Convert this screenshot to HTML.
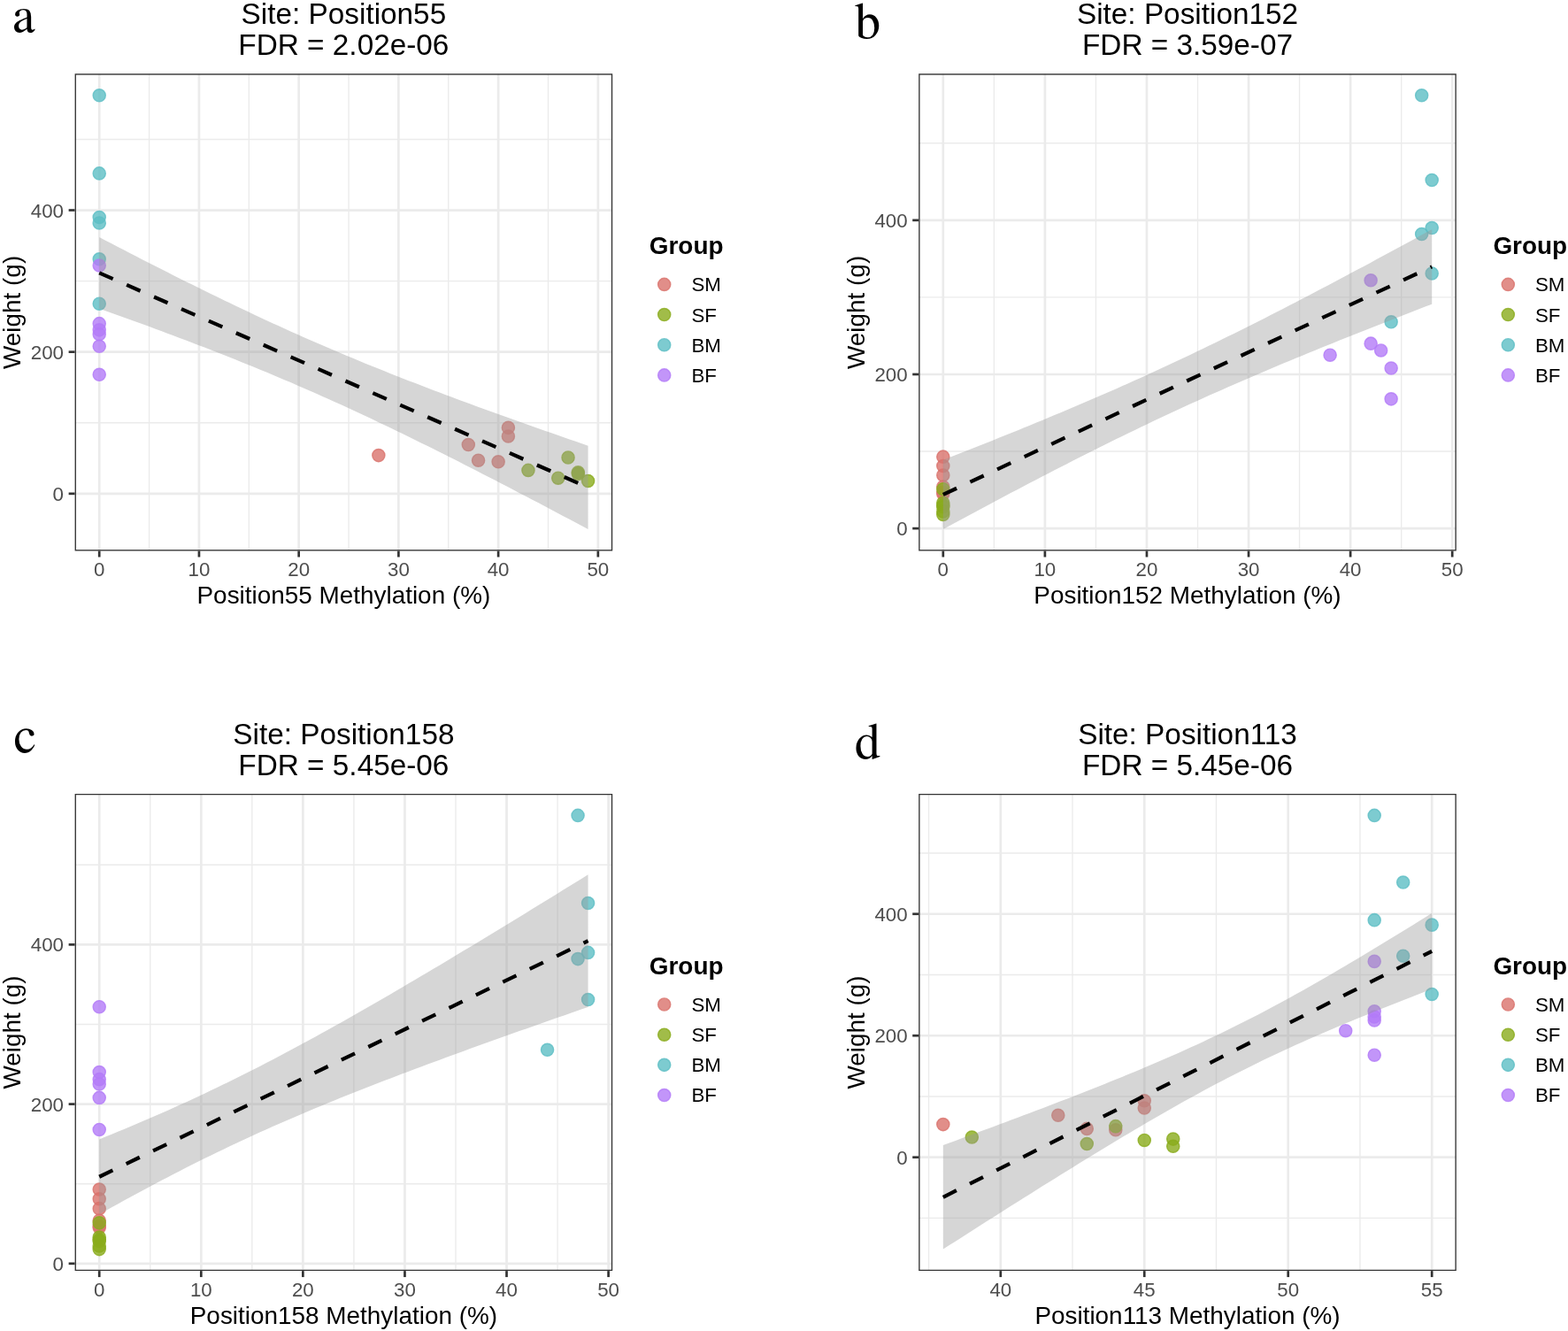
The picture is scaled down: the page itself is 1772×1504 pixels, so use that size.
<!DOCTYPE html><html><head><meta charset="utf-8"><title>Weight vs methylation</title><style>html,body{margin:0;padding:0;background:#fff}svg{display:block}</style></head><body>
<svg width="1772" height="1504" viewBox="0 0 1772 1504" font-family="'Liberation Sans', Arial, sans-serif">
<rect width="1772" height="1504" fill="#fff"/>
<defs><clipPath id="clipa"><rect x="84.6" y="83.3" width="607.6" height="539.2"/></clipPath></defs>
<g clip-path="url(#clipa)">
<line x1="168.58" y1="83.3" x2="168.58" y2="622.5" stroke="#ebebeb" stroke-width="1.35"/>
<line x1="281.31" y1="83.3" x2="281.31" y2="622.5" stroke="#ebebeb" stroke-width="1.35"/>
<line x1="394.04" y1="83.3" x2="394.04" y2="622.5" stroke="#ebebeb" stroke-width="1.35"/>
<line x1="506.76" y1="83.3" x2="506.76" y2="622.5" stroke="#ebebeb" stroke-width="1.35"/>
<line x1="619.49" y1="83.3" x2="619.49" y2="622.5" stroke="#ebebeb" stroke-width="1.35"/>
<line x1="84.6" y1="477.76" x2="692.2" y2="477.76" stroke="#ebebeb" stroke-width="1.35"/>
<line x1="84.6" y1="317.61" x2="692.2" y2="317.61" stroke="#ebebeb" stroke-width="1.35"/>
<line x1="84.6" y1="157.46" x2="692.2" y2="157.46" stroke="#ebebeb" stroke-width="1.35"/>
<line x1="112.22" y1="83.3" x2="112.22" y2="622.5" stroke="#ebebeb" stroke-width="2.7"/>
<line x1="224.95" y1="83.3" x2="224.95" y2="622.5" stroke="#ebebeb" stroke-width="2.7"/>
<line x1="337.67" y1="83.3" x2="337.67" y2="622.5" stroke="#ebebeb" stroke-width="2.7"/>
<line x1="450.4" y1="83.3" x2="450.4" y2="622.5" stroke="#ebebeb" stroke-width="2.7"/>
<line x1="563.13" y1="83.3" x2="563.13" y2="622.5" stroke="#ebebeb" stroke-width="2.7"/>
<line x1="675.85" y1="83.3" x2="675.85" y2="622.5" stroke="#ebebeb" stroke-width="2.7"/>
<line x1="84.6" y1="557.83" x2="692.2" y2="557.83" stroke="#ebebeb" stroke-width="2.7"/>
<line x1="84.6" y1="397.68" x2="692.2" y2="397.68" stroke="#ebebeb" stroke-width="2.7"/>
<line x1="84.6" y1="237.53" x2="692.2" y2="237.53" stroke="#ebebeb" stroke-width="2.7"/>
<circle cx="574.4" cy="483.36" r="7.085" fill="#d9726b" fill-opacity="0.8" stroke="#d9726b" stroke-opacity="0.8" stroke-width="1.41"/>
<circle cx="574.4" cy="492.97" r="7.085" fill="#d9726b" fill-opacity="0.8" stroke="#d9726b" stroke-opacity="0.8" stroke-width="1.41"/>
<circle cx="529.31" cy="502.58" r="7.085" fill="#d9726b" fill-opacity="0.8" stroke="#d9726b" stroke-opacity="0.8" stroke-width="1.41"/>
<circle cx="427.85" cy="514.59" r="7.085" fill="#d9726b" fill-opacity="0.8" stroke="#d9726b" stroke-opacity="0.8" stroke-width="1.41"/>
<circle cx="540.58" cy="520.2" r="7.085" fill="#d9726b" fill-opacity="0.8" stroke="#d9726b" stroke-opacity="0.8" stroke-width="1.41"/>
<circle cx="563.13" cy="521.8" r="7.085" fill="#d9726b" fill-opacity="0.8" stroke="#d9726b" stroke-opacity="0.8" stroke-width="1.41"/>
<circle cx="642.04" cy="517" r="7.085" fill="#8aab1c" fill-opacity="0.8" stroke="#8aab1c" stroke-opacity="0.8" stroke-width="1.41"/>
<circle cx="596.95" cy="531.41" r="7.085" fill="#8aab1c" fill-opacity="0.8" stroke="#8aab1c" stroke-opacity="0.8" stroke-width="1.41"/>
<circle cx="653.31" cy="533.81" r="7.085" fill="#8aab1c" fill-opacity="0.8" stroke="#8aab1c" stroke-opacity="0.8" stroke-width="1.41"/>
<circle cx="653.31" cy="535.41" r="7.085" fill="#8aab1c" fill-opacity="0.8" stroke="#8aab1c" stroke-opacity="0.8" stroke-width="1.41"/>
<circle cx="630.76" cy="540.22" r="7.085" fill="#8aab1c" fill-opacity="0.8" stroke="#8aab1c" stroke-opacity="0.8" stroke-width="1.41"/>
<circle cx="664.58" cy="543.42" r="7.085" fill="#8aab1c" fill-opacity="0.8" stroke="#8aab1c" stroke-opacity="0.8" stroke-width="1.41"/>
<circle cx="112.22" cy="107.81" r="7.085" fill="#5cbec4" fill-opacity="0.8" stroke="#5cbec4" stroke-opacity="0.8" stroke-width="1.41"/>
<circle cx="112.22" cy="195.89" r="7.085" fill="#5cbec4" fill-opacity="0.8" stroke="#5cbec4" stroke-opacity="0.8" stroke-width="1.41"/>
<circle cx="112.22" cy="245.54" r="7.085" fill="#5cbec4" fill-opacity="0.8" stroke="#5cbec4" stroke-opacity="0.8" stroke-width="1.41"/>
<circle cx="112.22" cy="251.95" r="7.085" fill="#5cbec4" fill-opacity="0.8" stroke="#5cbec4" stroke-opacity="0.8" stroke-width="1.41"/>
<circle cx="112.22" cy="292.78" r="7.085" fill="#5cbec4" fill-opacity="0.8" stroke="#5cbec4" stroke-opacity="0.8" stroke-width="1.41"/>
<circle cx="112.22" cy="343.23" r="7.085" fill="#5cbec4" fill-opacity="0.8" stroke="#5cbec4" stroke-opacity="0.8" stroke-width="1.41"/>
<circle cx="112.22" cy="299.99" r="7.085" fill="#b37bf8" fill-opacity="0.8" stroke="#b37bf8" stroke-opacity="0.8" stroke-width="1.41"/>
<circle cx="112.22" cy="365.65" r="7.085" fill="#b37bf8" fill-opacity="0.8" stroke="#b37bf8" stroke-opacity="0.8" stroke-width="1.41"/>
<circle cx="112.22" cy="372.86" r="7.085" fill="#b37bf8" fill-opacity="0.8" stroke="#b37bf8" stroke-opacity="0.8" stroke-width="1.41"/>
<circle cx="112.22" cy="377.66" r="7.085" fill="#b37bf8" fill-opacity="0.8" stroke="#b37bf8" stroke-opacity="0.8" stroke-width="1.41"/>
<circle cx="112.22" cy="391.28" r="7.085" fill="#b37bf8" fill-opacity="0.8" stroke="#b37bf8" stroke-opacity="0.8" stroke-width="1.41"/>
<circle cx="112.22" cy="423.31" r="7.085" fill="#b37bf8" fill-opacity="0.8" stroke="#b37bf8" stroke-opacity="0.8" stroke-width="1.41"/>
<polygon points="112.22,268.08 119.21,271.72 126.2,275.36 133.19,278.99 140.19,282.61 147.18,286.22 154.17,289.81 161.16,293.4 168.15,296.97 175.15,300.53 182.14,304.08 189.13,307.62 196.12,311.14 203.11,314.65 210.11,318.14 217.1,321.61 224.09,325.07 231.08,328.52 238.07,331.94 245.07,335.35 252.06,338.74 259.05,342.11 266.04,345.46 273.03,348.79 280.02,352.1 287.02,355.39 294.01,358.66 301,361.91 307.99,365.13 314.98,368.33 321.98,371.5 328.97,374.66 335.96,377.78 342.95,380.89 349.94,383.97 356.94,387.03 363.93,390.06 370.92,393.07 377.91,396.06 384.9,399.02 391.9,401.96 398.89,404.87 405.88,407.77 412.87,410.64 419.86,413.49 426.86,416.32 433.85,419.12 440.84,421.91 447.83,424.68 454.82,427.43 461.82,430.16 468.81,432.87 475.8,435.56 482.79,438.24 489.78,440.9 496.78,443.55 503.77,446.18 510.76,448.8 517.75,451.4 524.74,453.99 531.73,456.57 538.73,459.13 545.72,461.68 552.71,464.23 559.7,466.76 566.69,469.28 573.69,471.79 580.68,474.29 587.67,476.78 594.66,479.26 601.65,481.74 608.65,484.21 615.64,486.67 622.63,489.12 629.62,491.56 636.61,494 643.61,496.43 650.6,498.86 657.59,501.28 664.58,503.69 664.58,597.99 657.59,594.27 650.6,590.55 643.61,586.83 636.61,583.13 629.62,579.43 622.63,575.73 615.64,572.05 608.65,568.37 601.65,564.7 594.66,561.03 587.67,557.38 580.68,553.73 573.69,550.09 566.69,546.47 559.7,542.85 552.71,539.24 545.72,535.64 538.73,532.06 531.73,528.48 524.74,524.92 517.75,521.37 510.76,517.84 503.77,514.31 496.78,510.81 489.78,507.32 482.79,503.84 475.8,500.38 468.81,496.93 461.82,493.51 454.82,490.1 447.83,486.71 440.84,483.34 433.85,479.99 426.86,476.66 419.86,473.35 412.87,470.06 405.88,466.79 398.89,463.54 391.9,460.32 384.9,457.12 377.91,453.94 370.92,450.79 363.93,447.66 356.94,444.56 349.94,441.48 342.95,438.42 335.96,435.38 328.97,432.37 321.98,429.39 314.98,426.43 307.99,423.49 301,420.57 294.01,417.68 287.02,414.81 280.02,411.96 273.03,409.13 266.04,406.32 259.05,403.53 252.06,400.76 245.07,398.01 238.07,395.28 231.08,392.57 224.09,389.88 217.1,387.2 210.11,384.54 203.11,381.89 196.12,379.26 189.13,376.64 182.14,374.04 175.15,371.45 168.15,368.87 161.16,366.31 154.17,363.75 147.18,361.21 140.19,358.68 133.19,356.16 126.2,353.65 119.21,351.15 112.22,348.65" fill="#999999" fill-opacity="0.4"/>
<line x1="112.22" y1="308.37" x2="664.58" y2="550.84" stroke="#000" stroke-width="4.22" stroke-dasharray="16.88 16.88" stroke-linecap="butt"/>
<rect x="84.6" y="83.3" width="607.6" height="539.2" fill="none" stroke="#333333" stroke-width="2.7"/>
</g>
<line x1="77.62" y1="557.83" x2="84.6" y2="557.83" stroke="#333333" stroke-width="2.7"/>
<text x="72.02" y="565.82" font-size="22.3" fill="#4d4d4d" text-anchor="end">0</text>
<line x1="77.62" y1="397.68" x2="84.6" y2="397.68" stroke="#333333" stroke-width="2.7"/>
<text x="72.02" y="405.67" font-size="22.3" fill="#4d4d4d" text-anchor="end">200</text>
<line x1="77.62" y1="237.53" x2="84.6" y2="237.53" stroke="#333333" stroke-width="2.7"/>
<text x="72.02" y="245.51" font-size="22.3" fill="#4d4d4d" text-anchor="end">400</text>
<line x1="112.22" y1="622.5" x2="112.22" y2="629.48" stroke="#333333" stroke-width="2.7"/>
<text x="112.22" y="651.35" font-size="22.3" fill="#4d4d4d" text-anchor="middle">0</text>
<line x1="224.95" y1="622.5" x2="224.95" y2="629.48" stroke="#333333" stroke-width="2.7"/>
<text x="224.95" y="651.35" font-size="22.3" fill="#4d4d4d" text-anchor="middle">10</text>
<line x1="337.67" y1="622.5" x2="337.67" y2="629.48" stroke="#333333" stroke-width="2.7"/>
<text x="337.67" y="651.35" font-size="22.3" fill="#4d4d4d" text-anchor="middle">20</text>
<line x1="450.4" y1="622.5" x2="450.4" y2="629.48" stroke="#333333" stroke-width="2.7"/>
<text x="450.4" y="651.35" font-size="22.3" fill="#4d4d4d" text-anchor="middle">30</text>
<line x1="563.13" y1="622.5" x2="563.13" y2="629.48" stroke="#333333" stroke-width="2.7"/>
<text x="563.13" y="651.35" font-size="22.3" fill="#4d4d4d" text-anchor="middle">40</text>
<line x1="675.85" y1="622.5" x2="675.85" y2="629.48" stroke="#333333" stroke-width="2.7"/>
<text x="675.85" y="651.35" font-size="22.3" fill="#4d4d4d" text-anchor="middle">50</text>
<text x="388.4" y="682.3" font-size="27.9" fill="#000" text-anchor="middle">Position55 Methylation (%)</text>
<text transform="translate(22.9,352.9) rotate(-90)" x="0" y="0" font-size="27.9" fill="#000" text-anchor="middle">Weight (g)</text>
<text x="388.4" y="26.9" font-size="33.35" fill="#000" text-anchor="middle">Site: Position55</text>
<text x="388.4" y="62.4" font-size="33.35" fill="#000" text-anchor="middle">FDR = 2.02e-06</text>
<text x="733.8" y="287.4" font-size="27.9" font-weight="bold" fill="#000">Group</text>
<circle cx="750.7" cy="321.4" r="7.085" fill="#d9726b" fill-opacity="0.8" stroke="#d9726b" stroke-opacity="0.8" stroke-width="1.41"/>
<text x="781.4" y="329.38" font-size="22.3" fill="#000">SM</text>
<circle cx="750.7" cy="355.57" r="7.085" fill="#8aab1c" fill-opacity="0.8" stroke="#8aab1c" stroke-opacity="0.8" stroke-width="1.41"/>
<text x="781.4" y="363.55" font-size="22.3" fill="#000">SF</text>
<circle cx="750.7" cy="389.74" r="7.085" fill="#5cbec4" fill-opacity="0.8" stroke="#5cbec4" stroke-opacity="0.8" stroke-width="1.41"/>
<text x="781.4" y="397.72" font-size="22.3" fill="#000">BM</text>
<circle cx="750.7" cy="423.91" r="7.085" fill="#b37bf8" fill-opacity="0.8" stroke="#b37bf8" stroke-opacity="0.8" stroke-width="1.41"/>
<text x="781.4" y="431.89" font-size="22.3" fill="#000">BF</text>
<text x="14.6" y="36.3" font-family="FreeSerif, 'Liberation Serif', 'Times New Roman', serif" font-size="58" fill="#000">a</text>
<defs><clipPath id="clipb"><rect x="1038.2" y="83.3" width="607.6" height="539.2"/></clipPath></defs>
<g clip-path="url(#clipb)">
<line x1="1123.36" y1="83.3" x2="1123.36" y2="622.5" stroke="#ebebeb" stroke-width="1.35"/>
<line x1="1238.43" y1="83.3" x2="1238.43" y2="622.5" stroke="#ebebeb" stroke-width="1.35"/>
<line x1="1353.51" y1="83.3" x2="1353.51" y2="622.5" stroke="#ebebeb" stroke-width="1.35"/>
<line x1="1468.58" y1="83.3" x2="1468.58" y2="622.5" stroke="#ebebeb" stroke-width="1.35"/>
<line x1="1583.66" y1="83.3" x2="1583.66" y2="622.5" stroke="#ebebeb" stroke-width="1.35"/>
<line x1="1038.2" y1="510.04" x2="1645.8" y2="510.04" stroke="#ebebeb" stroke-width="1.35"/>
<line x1="1038.2" y1="335.92" x2="1645.8" y2="335.92" stroke="#ebebeb" stroke-width="1.35"/>
<line x1="1038.2" y1="161.79" x2="1645.8" y2="161.79" stroke="#ebebeb" stroke-width="1.35"/>
<line x1="1065.82" y1="83.3" x2="1065.82" y2="622.5" stroke="#ebebeb" stroke-width="2.7"/>
<line x1="1180.89" y1="83.3" x2="1180.89" y2="622.5" stroke="#ebebeb" stroke-width="2.7"/>
<line x1="1295.97" y1="83.3" x2="1295.97" y2="622.5" stroke="#ebebeb" stroke-width="2.7"/>
<line x1="1411.05" y1="83.3" x2="1411.05" y2="622.5" stroke="#ebebeb" stroke-width="2.7"/>
<line x1="1526.12" y1="83.3" x2="1526.12" y2="622.5" stroke="#ebebeb" stroke-width="2.7"/>
<line x1="1641.2" y1="83.3" x2="1641.2" y2="622.5" stroke="#ebebeb" stroke-width="2.7"/>
<line x1="1038.2" y1="597.11" x2="1645.8" y2="597.11" stroke="#ebebeb" stroke-width="2.7"/>
<line x1="1038.2" y1="422.98" x2="1645.8" y2="422.98" stroke="#ebebeb" stroke-width="2.7"/>
<line x1="1038.2" y1="248.85" x2="1645.8" y2="248.85" stroke="#ebebeb" stroke-width="2.7"/>
<circle cx="1065.82" cy="516.14" r="7.085" fill="#d9726b" fill-opacity="0.8" stroke="#d9726b" stroke-opacity="0.8" stroke-width="1.41"/>
<circle cx="1065.82" cy="526.58" r="7.085" fill="#d9726b" fill-opacity="0.8" stroke="#d9726b" stroke-opacity="0.8" stroke-width="1.41"/>
<circle cx="1065.82" cy="537.03" r="7.085" fill="#d9726b" fill-opacity="0.8" stroke="#d9726b" stroke-opacity="0.8" stroke-width="1.41"/>
<circle cx="1065.82" cy="550.09" r="7.085" fill="#d9726b" fill-opacity="0.8" stroke="#d9726b" stroke-opacity="0.8" stroke-width="1.41"/>
<circle cx="1065.82" cy="556.19" r="7.085" fill="#d9726b" fill-opacity="0.8" stroke="#d9726b" stroke-opacity="0.8" stroke-width="1.41"/>
<circle cx="1065.82" cy="557.93" r="7.085" fill="#d9726b" fill-opacity="0.8" stroke="#d9726b" stroke-opacity="0.8" stroke-width="1.41"/>
<circle cx="1065.82" cy="552.7" r="7.085" fill="#8aab1c" fill-opacity="0.8" stroke="#8aab1c" stroke-opacity="0.8" stroke-width="1.41"/>
<circle cx="1065.82" cy="568.37" r="7.085" fill="#8aab1c" fill-opacity="0.8" stroke="#8aab1c" stroke-opacity="0.8" stroke-width="1.41"/>
<circle cx="1065.82" cy="570.99" r="7.085" fill="#8aab1c" fill-opacity="0.8" stroke="#8aab1c" stroke-opacity="0.8" stroke-width="1.41"/>
<circle cx="1065.82" cy="572.73" r="7.085" fill="#8aab1c" fill-opacity="0.8" stroke="#8aab1c" stroke-opacity="0.8" stroke-width="1.41"/>
<circle cx="1065.82" cy="577.95" r="7.085" fill="#8aab1c" fill-opacity="0.8" stroke="#8aab1c" stroke-opacity="0.8" stroke-width="1.41"/>
<circle cx="1065.82" cy="581.43" r="7.085" fill="#8aab1c" fill-opacity="0.8" stroke="#8aab1c" stroke-opacity="0.8" stroke-width="1.41"/>
<circle cx="1606.67" cy="107.81" r="7.085" fill="#5cbec4" fill-opacity="0.8" stroke="#5cbec4" stroke-opacity="0.8" stroke-width="1.41"/>
<circle cx="1618.18" cy="203.58" r="7.085" fill="#5cbec4" fill-opacity="0.8" stroke="#5cbec4" stroke-opacity="0.8" stroke-width="1.41"/>
<circle cx="1618.18" cy="257.56" r="7.085" fill="#5cbec4" fill-opacity="0.8" stroke="#5cbec4" stroke-opacity="0.8" stroke-width="1.41"/>
<circle cx="1606.67" cy="264.52" r="7.085" fill="#5cbec4" fill-opacity="0.8" stroke="#5cbec4" stroke-opacity="0.8" stroke-width="1.41"/>
<circle cx="1618.18" cy="308.93" r="7.085" fill="#5cbec4" fill-opacity="0.8" stroke="#5cbec4" stroke-opacity="0.8" stroke-width="1.41"/>
<circle cx="1572.15" cy="363.78" r="7.085" fill="#5cbec4" fill-opacity="0.8" stroke="#5cbec4" stroke-opacity="0.8" stroke-width="1.41"/>
<circle cx="1549.14" cy="316.76" r="7.085" fill="#b37bf8" fill-opacity="0.8" stroke="#b37bf8" stroke-opacity="0.8" stroke-width="1.41"/>
<circle cx="1549.14" cy="388.15" r="7.085" fill="#b37bf8" fill-opacity="0.8" stroke="#b37bf8" stroke-opacity="0.8" stroke-width="1.41"/>
<circle cx="1560.64" cy="395.99" r="7.085" fill="#b37bf8" fill-opacity="0.8" stroke="#b37bf8" stroke-opacity="0.8" stroke-width="1.41"/>
<circle cx="1503.11" cy="401.21" r="7.085" fill="#b37bf8" fill-opacity="0.8" stroke="#b37bf8" stroke-opacity="0.8" stroke-width="1.41"/>
<circle cx="1572.15" cy="416.01" r="7.085" fill="#b37bf8" fill-opacity="0.8" stroke="#b37bf8" stroke-opacity="0.8" stroke-width="1.41"/>
<circle cx="1572.15" cy="450.84" r="7.085" fill="#b37bf8" fill-opacity="0.8" stroke="#b37bf8" stroke-opacity="0.8" stroke-width="1.41"/>
<polygon points="1065.82,519.73 1072.81,517 1079.8,514.26 1086.79,511.51 1093.79,508.76 1100.78,505.99 1107.77,503.22 1114.76,500.44 1121.75,497.65 1128.75,494.85 1135.74,492.03 1142.73,489.21 1149.72,486.38 1156.71,483.53 1163.71,480.67 1170.7,477.8 1177.69,474.92 1184.68,472.02 1191.67,469.11 1198.67,466.19 1205.66,463.24 1212.65,460.29 1219.64,457.32 1226.63,454.33 1233.62,451.32 1240.62,448.3 1247.61,445.26 1254.6,442.2 1261.59,439.13 1268.58,436.03 1275.58,432.92 1282.57,429.78 1289.56,426.63 1296.55,423.45 1303.54,420.26 1310.54,417.05 1317.53,413.81 1324.52,410.56 1331.51,407.28 1338.5,403.98 1345.5,400.67 1352.49,397.33 1359.48,393.98 1366.47,390.6 1373.46,387.21 1380.46,383.79 1387.45,380.36 1394.44,376.9 1401.43,373.43 1408.42,369.95 1415.42,366.44 1422.41,362.92 1429.4,359.38 1436.39,355.82 1443.38,352.25 1450.38,348.66 1457.37,345.06 1464.36,341.45 1471.35,337.82 1478.34,334.18 1485.33,330.52 1492.33,326.86 1499.32,323.18 1506.31,319.49 1513.3,315.79 1520.29,312.07 1527.29,308.35 1534.28,304.62 1541.27,300.88 1548.26,297.13 1555.25,293.37 1562.25,289.6 1569.24,285.83 1576.23,282.04 1583.22,278.25 1590.21,274.45 1597.21,270.65 1604.2,266.84 1611.19,263.02 1618.18,259.2 1618.18,343.64 1611.19,346.34 1604.2,349.04 1597.21,351.74 1590.21,354.46 1583.22,357.18 1576.23,359.9 1569.24,362.64 1562.25,365.38 1555.25,368.13 1548.26,370.89 1541.27,373.66 1534.28,376.43 1527.29,379.22 1520.29,382.01 1513.3,384.82 1506.31,387.63 1499.32,390.46 1492.33,393.3 1485.33,396.15 1478.34,399.01 1471.35,401.89 1464.36,404.78 1457.37,407.68 1450.38,410.6 1443.38,413.53 1436.39,416.47 1429.4,419.44 1422.41,422.41 1415.42,425.41 1408.42,428.42 1401.43,431.45 1394.44,434.5 1387.45,437.56 1380.46,440.64 1373.46,443.75 1366.47,446.87 1359.48,450.01 1352.49,453.17 1345.5,456.35 1338.5,459.56 1331.51,462.78 1324.52,466.02 1317.53,469.28 1310.54,472.56 1303.54,475.87 1296.55,479.19 1289.56,482.54 1282.57,485.9 1275.58,489.28 1268.58,492.69 1261.59,496.11 1254.6,499.55 1247.61,503.01 1240.62,506.48 1233.62,509.98 1226.63,513.49 1219.64,517.02 1212.65,520.57 1205.66,524.13 1198.67,527.7 1191.67,531.3 1184.68,534.9 1177.69,538.52 1170.7,542.16 1163.71,545.8 1156.71,549.46 1149.72,553.13 1142.73,556.82 1135.74,560.51 1128.75,564.22 1121.75,567.93 1114.76,571.66 1107.77,575.4 1100.78,579.14 1093.79,582.89 1086.79,586.66 1079.8,590.43 1072.81,594.2 1065.82,597.99" fill="#999999" fill-opacity="0.4"/>
<line x1="1065.82" y1="558.86" x2="1618.18" y2="301.42" stroke="#000" stroke-width="4.22" stroke-dasharray="16.88 16.88" stroke-linecap="butt"/>
<rect x="1038.2" y="83.3" width="607.6" height="539.2" fill="none" stroke="#333333" stroke-width="2.7"/>
</g>
<line x1="1031.22" y1="597.11" x2="1038.2" y2="597.11" stroke="#333333" stroke-width="2.7"/>
<text x="1025.62" y="605.09" font-size="22.3" fill="#4d4d4d" text-anchor="end">0</text>
<line x1="1031.22" y1="422.98" x2="1038.2" y2="422.98" stroke="#333333" stroke-width="2.7"/>
<text x="1025.62" y="430.96" font-size="22.3" fill="#4d4d4d" text-anchor="end">200</text>
<line x1="1031.22" y1="248.85" x2="1038.2" y2="248.85" stroke="#333333" stroke-width="2.7"/>
<text x="1025.62" y="256.84" font-size="22.3" fill="#4d4d4d" text-anchor="end">400</text>
<line x1="1065.82" y1="622.5" x2="1065.82" y2="629.48" stroke="#333333" stroke-width="2.7"/>
<text x="1065.82" y="651.35" font-size="22.3" fill="#4d4d4d" text-anchor="middle">0</text>
<line x1="1180.89" y1="622.5" x2="1180.89" y2="629.48" stroke="#333333" stroke-width="2.7"/>
<text x="1180.89" y="651.35" font-size="22.3" fill="#4d4d4d" text-anchor="middle">10</text>
<line x1="1295.97" y1="622.5" x2="1295.97" y2="629.48" stroke="#333333" stroke-width="2.7"/>
<text x="1295.97" y="651.35" font-size="22.3" fill="#4d4d4d" text-anchor="middle">20</text>
<line x1="1411.05" y1="622.5" x2="1411.05" y2="629.48" stroke="#333333" stroke-width="2.7"/>
<text x="1411.05" y="651.35" font-size="22.3" fill="#4d4d4d" text-anchor="middle">30</text>
<line x1="1526.12" y1="622.5" x2="1526.12" y2="629.48" stroke="#333333" stroke-width="2.7"/>
<text x="1526.12" y="651.35" font-size="22.3" fill="#4d4d4d" text-anchor="middle">40</text>
<line x1="1641.2" y1="622.5" x2="1641.2" y2="629.48" stroke="#333333" stroke-width="2.7"/>
<text x="1641.2" y="651.35" font-size="22.3" fill="#4d4d4d" text-anchor="middle">50</text>
<text x="1342" y="682.3" font-size="27.9" fill="#000" text-anchor="middle">Position152 Methylation (%)</text>
<text transform="translate(976.5,352.9) rotate(-90)" x="0" y="0" font-size="27.9" fill="#000" text-anchor="middle">Weight (g)</text>
<text x="1342" y="26.9" font-size="33.35" fill="#000" text-anchor="middle">Site: Position152</text>
<text x="1342" y="62.4" font-size="33.35" fill="#000" text-anchor="middle">FDR = 3.59e-07</text>
<text x="1687.4" y="287.4" font-size="27.9" font-weight="bold" fill="#000">Group</text>
<circle cx="1704.3" cy="321.4" r="7.085" fill="#d9726b" fill-opacity="0.8" stroke="#d9726b" stroke-opacity="0.8" stroke-width="1.41"/>
<text x="1735" y="329.38" font-size="22.3" fill="#000">SM</text>
<circle cx="1704.3" cy="355.57" r="7.085" fill="#8aab1c" fill-opacity="0.8" stroke="#8aab1c" stroke-opacity="0.8" stroke-width="1.41"/>
<text x="1735" y="363.55" font-size="22.3" fill="#000">SF</text>
<circle cx="1704.3" cy="389.74" r="7.085" fill="#5cbec4" fill-opacity="0.8" stroke="#5cbec4" stroke-opacity="0.8" stroke-width="1.41"/>
<text x="1735" y="397.72" font-size="22.3" fill="#000">BM</text>
<circle cx="1704.3" cy="423.91" r="7.085" fill="#b37bf8" fill-opacity="0.8" stroke="#b37bf8" stroke-opacity="0.8" stroke-width="1.41"/>
<text x="1735" y="431.89" font-size="22.3" fill="#000">BF</text>
<text x="965.7" y="43.2" font-family="FreeSerif, 'Liberation Serif', 'Times New Roman', serif" font-size="58" fill="#000">b</text>
<defs><clipPath id="clipc"><rect x="84.6" y="896.9" width="607.6" height="539.2"/></clipPath></defs>
<g clip-path="url(#clipc)">
<line x1="169.76" y1="896.9" x2="169.76" y2="1436.1" stroke="#ebebeb" stroke-width="1.35"/>
<line x1="284.83" y1="896.9" x2="284.83" y2="1436.1" stroke="#ebebeb" stroke-width="1.35"/>
<line x1="399.91" y1="896.9" x2="399.91" y2="1436.1" stroke="#ebebeb" stroke-width="1.35"/>
<line x1="514.98" y1="896.9" x2="514.98" y2="1436.1" stroke="#ebebeb" stroke-width="1.35"/>
<line x1="630.06" y1="896.9" x2="630.06" y2="1436.1" stroke="#ebebeb" stroke-width="1.35"/>
<line x1="84.6" y1="1337.7" x2="692.2" y2="1337.7" stroke="#ebebeb" stroke-width="1.35"/>
<line x1="84.6" y1="1157.49" x2="692.2" y2="1157.49" stroke="#ebebeb" stroke-width="1.35"/>
<line x1="84.6" y1="977.28" x2="692.2" y2="977.28" stroke="#ebebeb" stroke-width="1.35"/>
<line x1="112.22" y1="896.9" x2="112.22" y2="1436.1" stroke="#ebebeb" stroke-width="2.7"/>
<line x1="227.29" y1="896.9" x2="227.29" y2="1436.1" stroke="#ebebeb" stroke-width="2.7"/>
<line x1="342.37" y1="896.9" x2="342.37" y2="1436.1" stroke="#ebebeb" stroke-width="2.7"/>
<line x1="457.45" y1="896.9" x2="457.45" y2="1436.1" stroke="#ebebeb" stroke-width="2.7"/>
<line x1="572.52" y1="896.9" x2="572.52" y2="1436.1" stroke="#ebebeb" stroke-width="2.7"/>
<line x1="687.6" y1="896.9" x2="687.6" y2="1436.1" stroke="#ebebeb" stroke-width="2.7"/>
<line x1="84.6" y1="1427.81" x2="692.2" y2="1427.81" stroke="#ebebeb" stroke-width="2.7"/>
<line x1="84.6" y1="1247.6" x2="692.2" y2="1247.6" stroke="#ebebeb" stroke-width="2.7"/>
<line x1="84.6" y1="1067.38" x2="692.2" y2="1067.38" stroke="#ebebeb" stroke-width="2.7"/>
<circle cx="112.22" cy="1344.01" r="7.085" fill="#d9726b" fill-opacity="0.8" stroke="#d9726b" stroke-opacity="0.8" stroke-width="1.41"/>
<circle cx="112.22" cy="1354.82" r="7.085" fill="#d9726b" fill-opacity="0.8" stroke="#d9726b" stroke-opacity="0.8" stroke-width="1.41"/>
<circle cx="112.22" cy="1365.64" r="7.085" fill="#d9726b" fill-opacity="0.8" stroke="#d9726b" stroke-opacity="0.8" stroke-width="1.41"/>
<circle cx="112.22" cy="1379.15" r="7.085" fill="#d9726b" fill-opacity="0.8" stroke="#d9726b" stroke-opacity="0.8" stroke-width="1.41"/>
<circle cx="112.22" cy="1385.46" r="7.085" fill="#d9726b" fill-opacity="0.8" stroke="#d9726b" stroke-opacity="0.8" stroke-width="1.41"/>
<circle cx="112.22" cy="1387.26" r="7.085" fill="#d9726b" fill-opacity="0.8" stroke="#d9726b" stroke-opacity="0.8" stroke-width="1.41"/>
<circle cx="112.22" cy="1381.86" r="7.085" fill="#8aab1c" fill-opacity="0.8" stroke="#8aab1c" stroke-opacity="0.8" stroke-width="1.41"/>
<circle cx="112.22" cy="1398.07" r="7.085" fill="#8aab1c" fill-opacity="0.8" stroke="#8aab1c" stroke-opacity="0.8" stroke-width="1.41"/>
<circle cx="112.22" cy="1400.78" r="7.085" fill="#8aab1c" fill-opacity="0.8" stroke="#8aab1c" stroke-opacity="0.8" stroke-width="1.41"/>
<circle cx="112.22" cy="1402.58" r="7.085" fill="#8aab1c" fill-opacity="0.8" stroke="#8aab1c" stroke-opacity="0.8" stroke-width="1.41"/>
<circle cx="112.22" cy="1407.99" r="7.085" fill="#8aab1c" fill-opacity="0.8" stroke="#8aab1c" stroke-opacity="0.8" stroke-width="1.41"/>
<circle cx="112.22" cy="1411.59" r="7.085" fill="#8aab1c" fill-opacity="0.8" stroke="#8aab1c" stroke-opacity="0.8" stroke-width="1.41"/>
<circle cx="653.07" cy="921.41" r="7.085" fill="#5cbec4" fill-opacity="0.8" stroke="#5cbec4" stroke-opacity="0.8" stroke-width="1.41"/>
<circle cx="664.58" cy="1020.53" r="7.085" fill="#5cbec4" fill-opacity="0.8" stroke="#5cbec4" stroke-opacity="0.8" stroke-width="1.41"/>
<circle cx="664.58" cy="1076.39" r="7.085" fill="#5cbec4" fill-opacity="0.8" stroke="#5cbec4" stroke-opacity="0.8" stroke-width="1.41"/>
<circle cx="653.07" cy="1083.6" r="7.085" fill="#5cbec4" fill-opacity="0.8" stroke="#5cbec4" stroke-opacity="0.8" stroke-width="1.41"/>
<circle cx="664.58" cy="1129.56" r="7.085" fill="#5cbec4" fill-opacity="0.8" stroke="#5cbec4" stroke-opacity="0.8" stroke-width="1.41"/>
<circle cx="618.55" cy="1186.32" r="7.085" fill="#5cbec4" fill-opacity="0.8" stroke="#5cbec4" stroke-opacity="0.8" stroke-width="1.41"/>
<circle cx="112.22" cy="1137.67" r="7.085" fill="#b37bf8" fill-opacity="0.8" stroke="#b37bf8" stroke-opacity="0.8" stroke-width="1.41"/>
<circle cx="112.22" cy="1211.55" r="7.085" fill="#b37bf8" fill-opacity="0.8" stroke="#b37bf8" stroke-opacity="0.8" stroke-width="1.41"/>
<circle cx="112.22" cy="1219.66" r="7.085" fill="#b37bf8" fill-opacity="0.8" stroke="#b37bf8" stroke-opacity="0.8" stroke-width="1.41"/>
<circle cx="112.22" cy="1225.07" r="7.085" fill="#b37bf8" fill-opacity="0.8" stroke="#b37bf8" stroke-opacity="0.8" stroke-width="1.41"/>
<circle cx="112.22" cy="1240.39" r="7.085" fill="#b37bf8" fill-opacity="0.8" stroke="#b37bf8" stroke-opacity="0.8" stroke-width="1.41"/>
<circle cx="112.22" cy="1276.43" r="7.085" fill="#b37bf8" fill-opacity="0.8" stroke="#b37bf8" stroke-opacity="0.8" stroke-width="1.41"/>
<polygon points="112.22,1287.46 119.21,1284.62 126.2,1281.76 133.19,1278.87 140.19,1275.96 147.18,1273.03 154.17,1270.07 161.16,1267.09 168.15,1264.08 175.15,1261.04 182.14,1257.97 189.13,1254.88 196.12,1251.75 203.11,1248.59 210.11,1245.41 217.1,1242.19 224.09,1238.94 231.08,1235.65 238.07,1232.34 245.07,1228.99 252.06,1225.61 259.05,1222.2 266.04,1218.75 273.03,1215.28 280.02,1211.77 287.02,1208.23 294.01,1204.65 301,1201.05 307.99,1197.42 314.98,1193.75 321.98,1190.06 328.97,1186.34 335.96,1182.59 342.95,1178.82 349.94,1175.02 356.94,1171.19 363.93,1167.34 370.92,1163.47 377.91,1159.57 384.9,1155.66 391.9,1151.72 398.89,1147.76 405.88,1143.78 412.87,1139.78 419.86,1135.77 426.86,1131.74 433.85,1127.69 440.84,1123.63 447.83,1119.55 454.82,1115.46 461.82,1111.35 468.81,1107.23 475.8,1103.1 482.79,1098.96 489.78,1094.8 496.78,1090.64 503.77,1086.46 510.76,1082.27 517.75,1078.08 524.74,1073.87 531.73,1069.66 538.73,1065.43 545.72,1061.2 552.71,1056.96 559.7,1052.72 566.69,1048.47 573.69,1044.21 580.68,1039.94 587.67,1035.67 594.66,1031.39 601.65,1027.11 608.65,1022.82 615.64,1018.52 622.63,1014.22 629.62,1009.92 636.61,1005.61 643.61,1001.29 650.6,996.98 657.59,992.65 664.58,988.33 664.58,1137.95 657.59,1140.37 650.6,1142.8 643.61,1145.23 636.61,1147.67 629.62,1150.11 622.63,1152.55 615.64,1155 608.65,1157.46 601.65,1159.92 594.66,1162.39 587.67,1164.86 580.68,1167.33 573.69,1169.82 566.69,1172.31 559.7,1174.81 552.71,1177.31 545.72,1179.82 538.73,1182.34 531.73,1184.87 524.74,1187.4 517.75,1189.95 510.76,1192.5 503.77,1195.06 496.78,1197.64 489.78,1200.22 482.79,1202.82 475.8,1205.42 468.81,1208.04 461.82,1210.67 454.82,1213.31 447.83,1215.97 440.84,1218.64 433.85,1221.33 426.86,1224.03 419.86,1226.75 412.87,1229.49 405.88,1232.24 398.89,1235.01 391.9,1237.8 384.9,1240.61 377.91,1243.45 370.92,1246.3 363.93,1249.18 356.94,1252.08 349.94,1255 342.95,1257.95 335.96,1260.93 328.97,1263.93 321.98,1266.96 314.98,1270.02 307.99,1273.1 301,1276.22 294.01,1279.37 287.02,1282.54 280.02,1285.75 273.03,1288.99 266.04,1292.26 259.05,1295.57 252.06,1298.91 245.07,1302.28 238.07,1305.68 231.08,1309.11 224.09,1312.58 217.1,1316.08 210.11,1319.61 203.11,1323.17 196.12,1326.77 189.13,1330.39 182.14,1334.04 175.15,1337.73 168.15,1341.44 161.16,1345.18 154.17,1348.94 147.18,1352.74 140.19,1356.55 133.19,1360.39 126.2,1364.26 119.21,1368.15 112.22,1372.06" fill="#999999" fill-opacity="0.4"/>
<line x1="112.22" y1="1329.76" x2="664.58" y2="1063.14" stroke="#000" stroke-width="4.22" stroke-dasharray="16.88 16.88" stroke-linecap="butt"/>
<rect x="84.6" y="896.9" width="607.6" height="539.2" fill="none" stroke="#333333" stroke-width="2.7"/>
</g>
<line x1="77.62" y1="1427.81" x2="84.6" y2="1427.81" stroke="#333333" stroke-width="2.7"/>
<text x="72.02" y="1435.79" font-size="22.3" fill="#4d4d4d" text-anchor="end">0</text>
<line x1="77.62" y1="1247.6" x2="84.6" y2="1247.6" stroke="#333333" stroke-width="2.7"/>
<text x="72.02" y="1255.58" font-size="22.3" fill="#4d4d4d" text-anchor="end">200</text>
<line x1="77.62" y1="1067.38" x2="84.6" y2="1067.38" stroke="#333333" stroke-width="2.7"/>
<text x="72.02" y="1075.37" font-size="22.3" fill="#4d4d4d" text-anchor="end">400</text>
<line x1="112.22" y1="1436.1" x2="112.22" y2="1443.08" stroke="#333333" stroke-width="2.7"/>
<text x="112.22" y="1464.95" font-size="22.3" fill="#4d4d4d" text-anchor="middle">0</text>
<line x1="227.29" y1="1436.1" x2="227.29" y2="1443.08" stroke="#333333" stroke-width="2.7"/>
<text x="227.29" y="1464.95" font-size="22.3" fill="#4d4d4d" text-anchor="middle">10</text>
<line x1="342.37" y1="1436.1" x2="342.37" y2="1443.08" stroke="#333333" stroke-width="2.7"/>
<text x="342.37" y="1464.95" font-size="22.3" fill="#4d4d4d" text-anchor="middle">20</text>
<line x1="457.45" y1="1436.1" x2="457.45" y2="1443.08" stroke="#333333" stroke-width="2.7"/>
<text x="457.45" y="1464.95" font-size="22.3" fill="#4d4d4d" text-anchor="middle">30</text>
<line x1="572.52" y1="1436.1" x2="572.52" y2="1443.08" stroke="#333333" stroke-width="2.7"/>
<text x="572.52" y="1464.95" font-size="22.3" fill="#4d4d4d" text-anchor="middle">40</text>
<line x1="687.6" y1="1436.1" x2="687.6" y2="1443.08" stroke="#333333" stroke-width="2.7"/>
<text x="687.6" y="1464.95" font-size="22.3" fill="#4d4d4d" text-anchor="middle">50</text>
<text x="388.4" y="1495.9" font-size="27.9" fill="#000" text-anchor="middle">Position158 Methylation (%)</text>
<text transform="translate(22.9,1166.5) rotate(-90)" x="0" y="0" font-size="27.9" fill="#000" text-anchor="middle">Weight (g)</text>
<text x="388.4" y="840.5" font-size="33.35" fill="#000" text-anchor="middle">Site: Position158</text>
<text x="388.4" y="876" font-size="33.35" fill="#000" text-anchor="middle">FDR = 5.45e-06</text>
<text x="733.8" y="1101" font-size="27.9" font-weight="bold" fill="#000">Group</text>
<circle cx="750.7" cy="1135" r="7.085" fill="#d9726b" fill-opacity="0.8" stroke="#d9726b" stroke-opacity="0.8" stroke-width="1.41"/>
<text x="781.4" y="1142.98" font-size="22.3" fill="#000">SM</text>
<circle cx="750.7" cy="1169.17" r="7.085" fill="#8aab1c" fill-opacity="0.8" stroke="#8aab1c" stroke-opacity="0.8" stroke-width="1.41"/>
<text x="781.4" y="1177.15" font-size="22.3" fill="#000">SF</text>
<circle cx="750.7" cy="1203.34" r="7.085" fill="#5cbec4" fill-opacity="0.8" stroke="#5cbec4" stroke-opacity="0.8" stroke-width="1.41"/>
<text x="781.4" y="1211.32" font-size="22.3" fill="#000">BM</text>
<circle cx="750.7" cy="1237.51" r="7.085" fill="#b37bf8" fill-opacity="0.8" stroke="#b37bf8" stroke-opacity="0.8" stroke-width="1.41"/>
<text x="781.4" y="1245.49" font-size="22.3" fill="#000">BF</text>
<text x="15.5" y="850.3" font-family="FreeSerif, 'Liberation Serif', 'Times New Roman', serif" font-size="58" fill="#000">c</text>
<defs><clipPath id="clipd"><rect x="1038.2" y="896.9" width="607.6" height="539.2"/></clipPath></defs>
<g clip-path="url(#clipd)">
<line x1="1049.57" y1="896.9" x2="1049.57" y2="1436.1" stroke="#ebebeb" stroke-width="1.35"/>
<line x1="1212.03" y1="896.9" x2="1212.03" y2="1436.1" stroke="#ebebeb" stroke-width="1.35"/>
<line x1="1374.49" y1="896.9" x2="1374.49" y2="1436.1" stroke="#ebebeb" stroke-width="1.35"/>
<line x1="1536.95" y1="896.9" x2="1536.95" y2="1436.1" stroke="#ebebeb" stroke-width="1.35"/>
<line x1="1038.2" y1="1376.44" x2="1645.8" y2="1376.44" stroke="#ebebeb" stroke-width="1.35"/>
<line x1="1038.2" y1="1238.97" x2="1645.8" y2="1238.97" stroke="#ebebeb" stroke-width="1.35"/>
<line x1="1038.2" y1="1101.5" x2="1645.8" y2="1101.5" stroke="#ebebeb" stroke-width="1.35"/>
<line x1="1038.2" y1="964.03" x2="1645.8" y2="964.03" stroke="#ebebeb" stroke-width="1.35"/>
<line x1="1130.8" y1="896.9" x2="1130.8" y2="1436.1" stroke="#ebebeb" stroke-width="2.7"/>
<line x1="1293.26" y1="896.9" x2="1293.26" y2="1436.1" stroke="#ebebeb" stroke-width="2.7"/>
<line x1="1455.72" y1="896.9" x2="1455.72" y2="1436.1" stroke="#ebebeb" stroke-width="2.7"/>
<line x1="1618.18" y1="896.9" x2="1618.18" y2="1436.1" stroke="#ebebeb" stroke-width="2.7"/>
<line x1="1038.2" y1="1307.71" x2="1645.8" y2="1307.71" stroke="#ebebeb" stroke-width="2.7"/>
<line x1="1038.2" y1="1170.23" x2="1645.8" y2="1170.23" stroke="#ebebeb" stroke-width="2.7"/>
<line x1="1038.2" y1="1032.76" x2="1645.8" y2="1032.76" stroke="#ebebeb" stroke-width="2.7"/>
<circle cx="1293.26" cy="1243.78" r="7.085" fill="#d9726b" fill-opacity="0.8" stroke="#d9726b" stroke-opacity="0.8" stroke-width="1.41"/>
<circle cx="1293.26" cy="1252.03" r="7.085" fill="#d9726b" fill-opacity="0.8" stroke="#d9726b" stroke-opacity="0.8" stroke-width="1.41"/>
<circle cx="1195.79" cy="1260.28" r="7.085" fill="#d9726b" fill-opacity="0.8" stroke="#d9726b" stroke-opacity="0.8" stroke-width="1.41"/>
<circle cx="1065.82" cy="1270.59" r="7.085" fill="#d9726b" fill-opacity="0.8" stroke="#d9726b" stroke-opacity="0.8" stroke-width="1.41"/>
<circle cx="1228.28" cy="1275.4" r="7.085" fill="#d9726b" fill-opacity="0.8" stroke="#d9726b" stroke-opacity="0.8" stroke-width="1.41"/>
<circle cx="1260.77" cy="1276.78" r="7.085" fill="#d9726b" fill-opacity="0.8" stroke="#d9726b" stroke-opacity="0.8" stroke-width="1.41"/>
<circle cx="1260.77" cy="1272.65" r="7.085" fill="#8aab1c" fill-opacity="0.8" stroke="#8aab1c" stroke-opacity="0.8" stroke-width="1.41"/>
<circle cx="1098.31" cy="1285.02" r="7.085" fill="#8aab1c" fill-opacity="0.8" stroke="#8aab1c" stroke-opacity="0.8" stroke-width="1.41"/>
<circle cx="1325.75" cy="1287.09" r="7.085" fill="#8aab1c" fill-opacity="0.8" stroke="#8aab1c" stroke-opacity="0.8" stroke-width="1.41"/>
<circle cx="1293.26" cy="1288.46" r="7.085" fill="#8aab1c" fill-opacity="0.8" stroke="#8aab1c" stroke-opacity="0.8" stroke-width="1.41"/>
<circle cx="1228.28" cy="1292.58" r="7.085" fill="#8aab1c" fill-opacity="0.8" stroke="#8aab1c" stroke-opacity="0.8" stroke-width="1.41"/>
<circle cx="1325.75" cy="1295.33" r="7.085" fill="#8aab1c" fill-opacity="0.8" stroke="#8aab1c" stroke-opacity="0.8" stroke-width="1.41"/>
<circle cx="1553.2" cy="921.41" r="7.085" fill="#5cbec4" fill-opacity="0.8" stroke="#5cbec4" stroke-opacity="0.8" stroke-width="1.41"/>
<circle cx="1585.69" cy="997.02" r="7.085" fill="#5cbec4" fill-opacity="0.8" stroke="#5cbec4" stroke-opacity="0.8" stroke-width="1.41"/>
<circle cx="1553.2" cy="1039.64" r="7.085" fill="#5cbec4" fill-opacity="0.8" stroke="#5cbec4" stroke-opacity="0.8" stroke-width="1.41"/>
<circle cx="1618.18" cy="1045.13" r="7.085" fill="#5cbec4" fill-opacity="0.8" stroke="#5cbec4" stroke-opacity="0.8" stroke-width="1.41"/>
<circle cx="1585.69" cy="1080.19" r="7.085" fill="#5cbec4" fill-opacity="0.8" stroke="#5cbec4" stroke-opacity="0.8" stroke-width="1.41"/>
<circle cx="1618.18" cy="1123.49" r="7.085" fill="#5cbec4" fill-opacity="0.8" stroke="#5cbec4" stroke-opacity="0.8" stroke-width="1.41"/>
<circle cx="1553.2" cy="1086.38" r="7.085" fill="#b37bf8" fill-opacity="0.8" stroke="#b37bf8" stroke-opacity="0.8" stroke-width="1.41"/>
<circle cx="1553.2" cy="1142.74" r="7.085" fill="#b37bf8" fill-opacity="0.8" stroke="#b37bf8" stroke-opacity="0.8" stroke-width="1.41"/>
<circle cx="1553.2" cy="1148.93" r="7.085" fill="#b37bf8" fill-opacity="0.8" stroke="#b37bf8" stroke-opacity="0.8" stroke-width="1.41"/>
<circle cx="1553.2" cy="1153.05" r="7.085" fill="#b37bf8" fill-opacity="0.8" stroke="#b37bf8" stroke-opacity="0.8" stroke-width="1.41"/>
<circle cx="1520.71" cy="1164.74" r="7.085" fill="#b37bf8" fill-opacity="0.8" stroke="#b37bf8" stroke-opacity="0.8" stroke-width="1.41"/>
<circle cx="1553.2" cy="1192.23" r="7.085" fill="#b37bf8" fill-opacity="0.8" stroke="#b37bf8" stroke-opacity="0.8" stroke-width="1.41"/>
<polygon points="1065.82,1294.03 1072.81,1291.47 1079.8,1288.9 1086.79,1286.33 1093.79,1283.76 1100.78,1281.18 1107.77,1278.6 1114.76,1276.01 1121.75,1273.41 1128.75,1270.81 1135.74,1268.2 1142.73,1265.58 1149.72,1262.96 1156.71,1260.33 1163.71,1257.69 1170.7,1255.04 1177.69,1252.38 1184.68,1249.71 1191.67,1247.03 1198.67,1244.34 1205.66,1241.64 1212.65,1238.92 1219.64,1236.2 1226.63,1233.45 1233.62,1230.7 1240.62,1227.92 1247.61,1225.13 1254.6,1222.32 1261.59,1219.5 1268.58,1216.65 1275.58,1213.78 1282.57,1210.88 1289.56,1207.97 1296.55,1205.03 1303.54,1202.06 1310.54,1199.06 1317.53,1196.03 1324.52,1192.97 1331.51,1189.88 1338.5,1186.75 1345.5,1183.59 1352.49,1180.39 1359.48,1177.15 1366.47,1173.87 1373.46,1170.56 1380.46,1167.2 1387.45,1163.79 1394.44,1160.35 1401.43,1156.86 1408.42,1153.33 1415.42,1149.75 1422.41,1146.13 1429.4,1142.47 1436.39,1138.77 1443.38,1135.03 1450.38,1131.24 1457.37,1127.42 1464.36,1123.56 1471.35,1119.66 1478.34,1115.73 1485.33,1111.76 1492.33,1107.76 1499.32,1103.74 1506.31,1099.68 1513.3,1095.59 1520.29,1091.48 1527.29,1087.35 1534.28,1083.19 1541.27,1079 1548.26,1074.8 1555.25,1070.58 1562.25,1066.34 1569.24,1062.08 1576.23,1057.81 1583.22,1053.51 1590.21,1049.21 1597.21,1044.89 1604.2,1040.56 1611.19,1036.22 1618.18,1031.86 1618.18,1117.68 1611.19,1120.36 1604.2,1123.06 1597.21,1125.76 1590.21,1128.48 1583.22,1131.22 1576.23,1133.97 1569.24,1136.73 1562.25,1139.51 1555.25,1142.31 1548.26,1145.13 1541.27,1147.96 1534.28,1150.82 1527.29,1153.7 1520.29,1156.6 1513.3,1159.53 1506.31,1162.48 1499.32,1165.46 1492.33,1168.47 1485.33,1171.52 1478.34,1174.59 1471.35,1177.7 1464.36,1180.84 1457.37,1184.02 1450.38,1187.23 1443.38,1190.49 1436.39,1193.78 1429.4,1197.12 1422.41,1200.5 1415.42,1203.92 1408.42,1207.38 1401.43,1210.89 1394.44,1214.44 1387.45,1218.03 1380.46,1221.67 1373.46,1225.35 1366.47,1229.07 1359.48,1232.83 1352.49,1236.63 1345.5,1240.47 1338.5,1244.34 1331.51,1248.26 1324.52,1252.2 1317.53,1256.18 1310.54,1260.19 1303.54,1264.24 1296.55,1268.31 1289.56,1272.4 1282.57,1276.52 1275.58,1280.67 1268.58,1284.84 1261.59,1289.03 1254.6,1293.24 1247.61,1297.47 1240.62,1301.72 1233.62,1305.99 1226.63,1310.27 1219.64,1314.56 1212.65,1318.88 1205.66,1323.2 1198.67,1327.54 1191.67,1331.88 1184.68,1336.24 1177.69,1340.62 1170.7,1345 1163.71,1349.39 1156.71,1353.78 1149.72,1358.19 1142.73,1362.61 1135.74,1367.03 1128.75,1371.46 1121.75,1375.9 1114.76,1380.34 1107.77,1384.79 1100.78,1389.24 1093.79,1393.7 1086.79,1398.17 1079.8,1402.64 1072.81,1407.11 1065.82,1411.59" fill="#999999" fill-opacity="0.4"/>
<line x1="1065.82" y1="1352.81" x2="1618.18" y2="1074.77" stroke="#000" stroke-width="4.22" stroke-dasharray="16.88 16.88" stroke-linecap="butt"/>
<rect x="1038.2" y="896.9" width="607.6" height="539.2" fill="none" stroke="#333333" stroke-width="2.7"/>
</g>
<line x1="1031.22" y1="1307.71" x2="1038.2" y2="1307.71" stroke="#333333" stroke-width="2.7"/>
<text x="1025.62" y="1315.69" font-size="22.3" fill="#4d4d4d" text-anchor="end">0</text>
<line x1="1031.22" y1="1170.23" x2="1038.2" y2="1170.23" stroke="#333333" stroke-width="2.7"/>
<text x="1025.62" y="1178.22" font-size="22.3" fill="#4d4d4d" text-anchor="end">200</text>
<line x1="1031.22" y1="1032.76" x2="1038.2" y2="1032.76" stroke="#333333" stroke-width="2.7"/>
<text x="1025.62" y="1040.75" font-size="22.3" fill="#4d4d4d" text-anchor="end">400</text>
<line x1="1130.8" y1="1436.1" x2="1130.8" y2="1443.08" stroke="#333333" stroke-width="2.7"/>
<text x="1130.8" y="1464.95" font-size="22.3" fill="#4d4d4d" text-anchor="middle">40</text>
<line x1="1293.26" y1="1436.1" x2="1293.26" y2="1443.08" stroke="#333333" stroke-width="2.7"/>
<text x="1293.26" y="1464.95" font-size="22.3" fill="#4d4d4d" text-anchor="middle">45</text>
<line x1="1455.72" y1="1436.1" x2="1455.72" y2="1443.08" stroke="#333333" stroke-width="2.7"/>
<text x="1455.72" y="1464.95" font-size="22.3" fill="#4d4d4d" text-anchor="middle">50</text>
<line x1="1618.18" y1="1436.1" x2="1618.18" y2="1443.08" stroke="#333333" stroke-width="2.7"/>
<text x="1618.18" y="1464.95" font-size="22.3" fill="#4d4d4d" text-anchor="middle">55</text>
<text x="1342" y="1495.9" font-size="27.9" fill="#000" text-anchor="middle">Position113 Methylation (%)</text>
<text transform="translate(976.5,1166.5) rotate(-90)" x="0" y="0" font-size="27.9" fill="#000" text-anchor="middle">Weight (g)</text>
<text x="1342" y="840.5" font-size="33.35" fill="#000" text-anchor="middle">Site: Position113</text>
<text x="1342" y="876" font-size="33.35" fill="#000" text-anchor="middle">FDR = 5.45e-06</text>
<text x="1687.4" y="1101" font-size="27.9" font-weight="bold" fill="#000">Group</text>
<circle cx="1704.3" cy="1135" r="7.085" fill="#d9726b" fill-opacity="0.8" stroke="#d9726b" stroke-opacity="0.8" stroke-width="1.41"/>
<text x="1735" y="1142.98" font-size="22.3" fill="#000">SM</text>
<circle cx="1704.3" cy="1169.17" r="7.085" fill="#8aab1c" fill-opacity="0.8" stroke="#8aab1c" stroke-opacity="0.8" stroke-width="1.41"/>
<text x="1735" y="1177.15" font-size="22.3" fill="#000">SF</text>
<circle cx="1704.3" cy="1203.34" r="7.085" fill="#5cbec4" fill-opacity="0.8" stroke="#5cbec4" stroke-opacity="0.8" stroke-width="1.41"/>
<text x="1735" y="1211.32" font-size="22.3" fill="#000">BM</text>
<circle cx="1704.3" cy="1237.51" r="7.085" fill="#b37bf8" fill-opacity="0.8" stroke="#b37bf8" stroke-opacity="0.8" stroke-width="1.41"/>
<text x="1735" y="1245.49" font-size="22.3" fill="#000">BF</text>
<text x="966" y="856.6" font-family="FreeSerif, 'Liberation Serif', 'Times New Roman', serif" font-size="58" fill="#000">d</text>
</svg></body></html>
